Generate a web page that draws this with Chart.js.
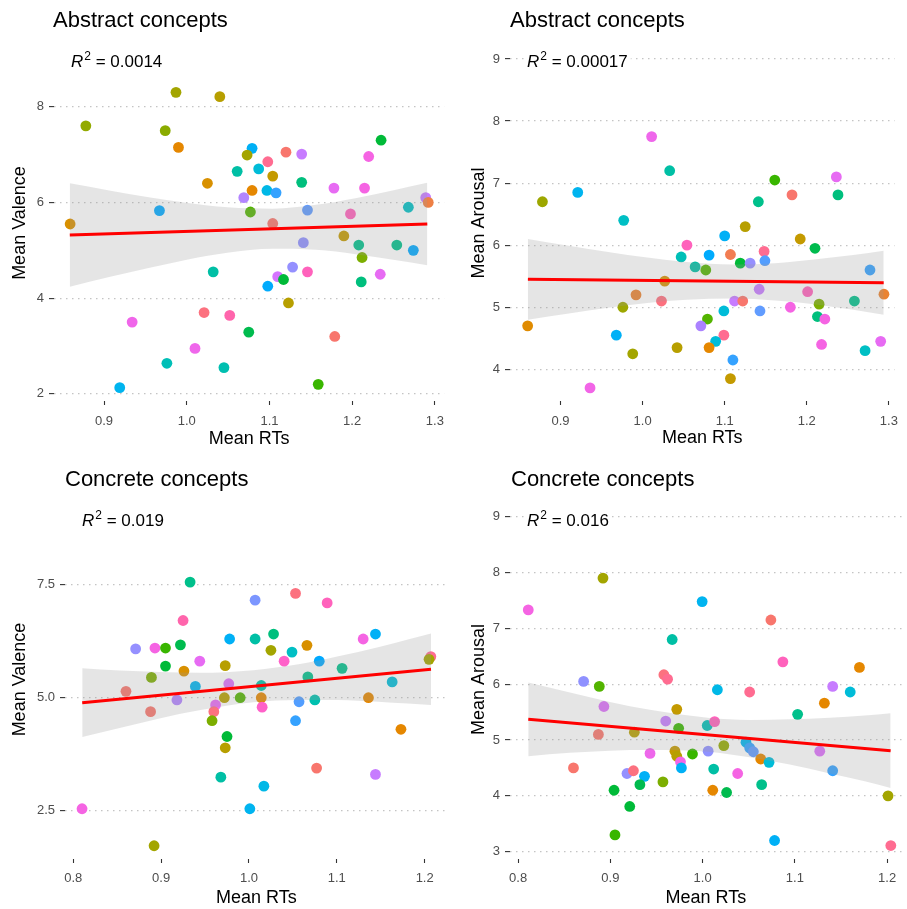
<!DOCTYPE html>
<html>
<head>
<meta charset="utf-8">
<script src="https://cdn.jsdelivr.net/npm/chart.js@4.4.0/dist/chart.umd.min.js"></script>
<style>
  body { margin: 0; background: #fff; width: 907px; height: 909px; position: relative; overflow: hidden; }
  canvas { position: absolute; }
</style>
</head>
<body>
<canvas id="absValence" width="453" height="455" style="left:0;top:0"></canvas>
<canvas id="absArousal" width="453" height="455" style="left:454px;top:0"></canvas>
<canvas id="conValence" width="453" height="454" style="left:0;top:455px"></canvas>
<canvas id="conArousal" width="453" height="454" style="left:454px;top:455px"></canvas>
<script>
// --- Abstract concepts: mean RT vs mean valence
const absValRT = [0.987,1.040,0.878,0.974,0.990,1.079,1.235,1.120,1.139,1.073,1.098,1.220,1.061,1.087,1.104,1.025,1.139,1.079,1.097,1.108,1.178,1.215,1.069,1.289,1.292,0.967,1.077,1.146,1.198,1.268,0.859,1.104,1.190,1.141,1.208,1.254,1.274,1.212,1.032,1.128,1.146,1.110,1.117,1.234,1.211,1.098,1.123,1.021,1.052,0.934,1.075,1.179,1.010,0.976,1.045,0.919,1.159];
const absValMean = [8.30,8.21,7.60,7.50,7.15,7.13,7.30,7.05,7.01,6.99,6.85,6.96,6.65,6.70,6.55,6.40,6.42,6.25,6.25,6.20,6.30,6.30,6.10,6.10,6.00,5.83,5.80,5.84,5.76,5.90,5.55,5.56,5.30,5.16,5.11,5.11,5.00,4.85,4.55,4.65,4.55,4.45,4.39,4.50,4.34,4.25,3.90,3.70,3.64,3.50,3.29,3.20,2.95,2.64,2.55,2.13,2.20];
const absValFitRT = [0.8586,0.9062,0.9539,1.0015,1.0491,1.1039,1.1563,1.2040,1.2516,1.2909];
const absValUpper = [6.40,6.25,6.11,5.99,5.90,5.87,5.95,6.09,6.26,6.41];
const absValLower = [4.24,4.44,4.63,4.81,4.95,5.03,5.01,4.92,4.80,4.69];
const absValLineRT = [0.8586,1.2909];
const absValLine = [5.32,5.55];

// --- Abstract concepts: mean RT vs mean arousal
const absAroRT = [1.011,1.033,0.878,0.921,1.161,1.182,1.236,1.238,1.141,0.977,1.125,1.100,1.054,1.192,1.210,1.047,1.081,1.107,1.148,1.064,1.077,1.119,1.131,1.149,1.277,1.027,0.992,1.023,1.142,1.201,1.112,1.122,1.258,1.294,0.976,1.099,1.143,1.180,1.215,0.860,1.079,1.071,1.213,1.222,0.968,1.099,1.089,1.290,1.042,1.081,1.218,0.988,1.110,1.271,0.936,1.107];
const absAroMean = [7.75,7.20,6.70,6.85,7.05,6.81,7.10,6.81,6.70,6.40,6.30,6.15,6.00,6.10,5.95,5.81,5.84,5.85,5.90,5.65,5.60,5.71,5.71,5.75,5.60,5.42,5.20,5.10,5.29,5.25,5.10,5.10,5.10,5.21,5.00,4.94,4.94,5.00,5.05,4.70,4.81,4.70,4.85,4.81,4.55,4.55,4.45,4.45,4.35,4.35,4.40,4.25,4.15,4.30,3.70,3.85];
const absAroFitRT = [0.8603,0.9102,0.9580,1.0057,1.0535,1.1097,1.1611,1.2088,1.2566,1.2937];
const absAroUpper = [6.10,5.99,5.89,5.80,5.73,5.69,5.71,5.77,5.84,5.91];
const absAroLower = [4.80,4.90,4.99,5.07,5.12,5.14,5.11,5.05,4.96,4.88];
const absAroLineRT = [0.8603,1.2937];
const absAroLine = [5.45,5.395];

// --- Concrete concepts: mean RT vs mean valence
const conValRT = [0.933,1.053,1.007,1.089,0.925,0.978,1.007,1.028,1.130,1.144,0.871,0.893,0.905,0.922,1.025,1.049,1.066,0.944,0.973,1.040,1.080,0.905,0.926,1.106,1.207,1.205,0.889,0.939,0.977,1.014,1.067,1.163,0.860,0.918,0.972,0.990,1.014,1.136,0.962,0.888,0.960,1.015,1.057,1.075,0.958,1.053,1.173,0.975,0.973,1.077,1.144,0.968,1.017,0.810,1.001,0.892];
const conValMean = [7.56,7.31,7.16,7.10,6.71,6.30,6.30,6.41,6.30,6.41,6.08,6.10,6.10,6.17,6.05,6.01,6.16,5.81,5.71,5.81,5.81,5.70,5.59,5.65,5.91,5.85,5.45,5.25,5.31,5.27,5.46,5.35,5.14,4.95,5.00,5.00,5.00,5.00,4.84,4.69,4.69,4.79,4.91,4.95,4.49,4.49,4.30,4.14,3.89,3.44,3.30,3.24,3.04,2.54,2.54,1.72];
const conValFitRT = [0.8102,0.8528,0.8981,0.9433,1.0051,1.0564,1.1017,1.1469,1.1809,1.2072];
const conValUpper = [5.65,5.60,5.57,5.55,5.61,5.74,5.92,6.12,6.29,6.42];
const conValLower = [4.13,4.33,4.54,4.72,4.90,4.95,4.95,4.91,4.87,4.84];
const conValLineRT = [0.8102,1.2072];
const conValLine = [4.889,5.629];

// --- Concrete concepts: mean RT vs mean arousal
const conAroRT = [0.892,0.811,0.9995,1.074,0.967,1.087,1.170,0.871,0.888,0.958,0.962,1.016,1.141,1.160,1.051,0.893,0.972,1.132,1.103,0.960,1.005,1.013,0.974,0.887,0.926,1.047,1.023,1.051,1.055,1.127,0.970,1.006,0.943,0.989,0.972,1.063,1.072,0.976,0.860,0.977,1.141,0.918,0.925,1.012,1.038,0.937,0.957,0.932,1.064,0.904,1.011,1.026,1.201,0.921,0.905,1.078,1.204];
const conAroMean = [7.90,7.33,7.48,7.15,6.80,6.40,6.30,6.05,5.96,6.17,6.09,5.90,5.96,5.86,5.86,5.60,5.55,5.66,5.46,5.34,5.26,5.33,5.21,5.10,5.14,4.96,4.90,4.86,4.79,4.80,4.80,4.80,4.76,4.75,4.71,4.66,4.60,4.61,4.50,4.50,4.45,4.40,4.45,4.48,4.40,4.35,4.25,4.20,4.20,4.10,4.10,4.06,4.00,3.81,3.30,3.20,3.11];
const conAroFitRT = [0.811,0.8562,0.8995,0.9428,1.0055,1.0511,1.0944,1.1378,1.1757,1.2038];
const conAroUpper = [6.03,5.85,5.68,5.54,5.40,5.36,5.37,5.40,5.44,5.48];
const conAroLower = [4.71,4.77,4.81,4.82,4.79,4.69,4.56,4.40,4.26,4.14];
const conAroLineRT = [0.811,1.2038];
const conAroLine = [5.371,4.809];

// tick labels
const absRTTicks = [0.9,1.0,1.1,1.2,1.3];
const conRTTicks = [0.8,0.9,1.0,1.1,1.2];
const absValTicks = [2,4,6,8];
const absAroTicks = [4,5,6,7,8,9];
const conValTicks = [2.5,5.0,7.5];
const conAroTicks = [3,4,5,6,7,8,9];

// point colours (one hue per concept, ggplot style)
const absValColors = ['#A3A500','#B79F00','#93AA00','#8AAB00','#E58700','#00B0F6','#00BA38','#F8766D','#C77CFF','#A3A500','#FF6C91','#F564E3','#00BFA5','#00BCD8','#C49A00','#D89000','#00BF7D','#E58700','#00B8E7','#35A2FF','#E76BF3','#F564E3','#B385FF','#C77CFF','#EE8044','#00A9FF','#53B400','#619CFF','#FF62BC','#00BFC4','#D89000','#F8766D','#C49A00','#8F91FF','#00C08B','#00C08B','#00A9FF','#7CAE00','#00BFA5','#9590FF','#FF62BC','#D575FE','#00BA38','#E76BF3','#00BF7D','#00ABFD','#B79F00','#FC717F','#FF65AC','#F066EA','#00BB4E','#F8766D','#EF67EB','#00BFB7','#00BFB0','#00B4EF','#39B600'];
const absAroColors = ['#EF67EB','#00BFA5','#9DA700','#00B4EF','#39B600','#F8766D','#E76BF3','#00BF7D','#00C08B','#00BFC4','#B79F00','#00B0F6','#FF62BC','#C49A00','#00BB4E','#00BFB7','#00ABFD','#F27D52','#FF6C91','#00BFA5','#53B400','#00BA38','#9590FF','#529EFF','#35A2FF','#D89000','#EA8331','#FC717F','#C77CFF','#FF62BC','#C77CFF','#F8766D','#00C08B','#EA8331','#9DA700','#00BCD8','#619CFF','#F564E3','#7CAE00','#E08B00','#53B400','#AB82FF','#00BF7D','#F564E3','#00B0F6','#FF6C91','#00BCD8','#E76BF3','#B79F00','#E58700','#F564E3','#A3A500','#35A2FF','#00BFC4','#F265E7','#C49A00'];
const conValColors = ['#00C08B','#FC717F','#7C96FF','#FF62BC','#FF65AC','#00B0F6','#00BFA5','#00BF7D','#F564E3','#00B0F6','#9590FF','#F564E3','#39B600','#00BB4E','#A3A500','#00BFC4','#D89000','#E76BF3','#B79F00','#FF61C9','#00A9FF','#00BA38','#D89000','#00C08B','#FF6C91','#A3A500','#7CAE00','#00B4EF','#DC71FA','#00BFA5','#00C08B','#00BCD8','#F8766D','#B385FF','#B79F00','#53B400','#E58700','#E58700','#E76BF3','#F8766D','#FC717F','#FF61C9','#529EFF','#00C0AF','#7CAE00','#35A2FF','#E58700','#00BA38','#B79F00','#F8766D','#C77CFF','#00BFA5','#00B8E7','#F564E3','#00B4F0','#A3A500'];
const conAroColors = ['#A3A500','#F564E3','#00B4F0','#F8766D','#00BFA5','#FF62BC','#E58700','#8F91FF','#53B400','#FC717F','#FF6C91','#00B8E7','#C77CFF','#00BCD8','#FF6C91','#DC71FA','#C49A00','#E58700','#00C08B','#C77CFF','#00BFB7','#FF62BC','#39B600','#F8766D','#B79F00','#00B4EF','#93AA00','#35A2FF','#619CFF','#DC71FA','#C49A00','#8F91FF','#EE67EB','#39B600','#B79F00','#E58700','#00BCD8','#F265E7','#F8766D','#00B0F6','#35A2FF','#9590FF','#FC717F','#00BFA5','#F564E3','#00B0F6','#7CAE00','#00BB4E','#00C08B','#00BA38','#E58700','#00BB4E','#A3A500','#00BA38','#39B600','#00B0F6','#FF6C91'];

Chart.defaults.font.family = '"Liberation Sans", Arial, sans-serif';
Chart.defaults.animation = false;

// titles and the R² label
const panelText = {
  id: 'panelText',
  afterDraw(chart, args, o) {
    const ctx = chart.ctx;
    const left = chart.chartArea.left;
    ctx.save();
    ctx.fillStyle = '#000';
    ctx.textBaseline = 'alphabetic';
    ctx.textAlign = 'left';
    ctx.font = '22px "Liberation Sans", Arial, sans-serif';
    ctx.fillText(o.title, left + o.titleDx, o.titleY);

    const x0 = left + 17;
    const rest = ' = ' + o.r2;
    ctx.font = 'italic 17px "Liberation Sans", Arial, sans-serif';
    const wR = ctx.measureText('R').width;
    ctx.font = '12px "Liberation Sans", Arial, sans-serif';
    const w2 = ctx.measureText('2').width;
    ctx.font = '17px "Liberation Sans", Arial, sans-serif';
    const wRest = ctx.measureText(rest).width;
    ctx.fillStyle = '#fff';
    ctx.fillRect(x0 - 3, o.r2Y - 17, wR + w2 + wRest + 7, 22);
    ctx.fillStyle = '#000';
    ctx.font = 'italic 17px "Liberation Sans", Arial, sans-serif';
    ctx.fillText('R', x0, o.r2Y);
    ctx.font = '12px "Liberation Sans", Arial, sans-serif';
    ctx.fillText('2', x0 + wR + 1, o.r2Y - 7);
    ctx.font = '17px "Liberation Sans", Arial, sans-serif';
    ctx.fillText(rest, x0 + wR + w2 + 1, o.r2Y);
    ctx.restore();
  }
};

function toXY(xs, ys) {
  return xs.map((v, i) => ({ x: v, y: ys[i] }));
}

function makePanel(p) {
  const canvas = document.getElementById(p.id);
  const H = canvas.height, W = canvas.width;
  new Chart(canvas, {
    type: 'scatter',
    data: {
      datasets: [
        { data: toXY(p.rt, p.mean), pointBackgroundColor: p.colors, pointBorderWidth: 0, pointRadius: 5.4, order: 3 },
        { data: toXY(p.fitRT, p.upper), showLine: true, pointRadius: 0, borderWidth: 0, borderColor: 'rgba(0,0,0,0)',
          fill: '+1', backgroundColor: 'rgba(153,153,153,0.26)', cubicInterpolationMode: 'monotone', order: 2 },
        { data: toXY(p.fitRT, p.lower), showLine: true, pointRadius: 0, borderWidth: 0, borderColor: 'rgba(0,0,0,0)',
          fill: false, cubicInterpolationMode: 'monotone', order: 2 },
        { data: toXY(p.lineRT, p.line), showLine: true, pointRadius: 0, borderColor: '#ff0000', borderWidth: 3, order: 1 }
      ]
    },
    options: {
      responsive: false,
      events: [],
      layout: { padding: { top: p.top, right: W - p.right, bottom: 0, left: 0 } },
      plugins: {
        legend: { display: false },
        tooltip: { enabled: false },
        panelText: { title: p.title, titleDx: p.titleDx, titleY: p.titleY, r2: p.r2, r2Y: p.r2Y }
      },
      scales: {
        x: {
          type: 'linear', min: p.xMin, max: p.xMax,
          afterBuildTicks: s => { s.ticks = p.xTicks.map(v => ({ value: v })); },
          afterFit: s => { s.height = H - p.bottom; },
          ticks: { callback: v => v.toFixed(1), color: '#4d4d4d', font: { size: 13 }, padding: p.xTickPad, maxRotation: 0 },
          grid: { drawOnChartArea: false, drawTicks: true, tickLength: 4, tickColor: '#333', tickWidth: 1.1 },
          border: { display: false },
          title: { display: true, text: 'Mean RTs', color: '#000', font: { size: 18 }, padding: { top: 0, bottom: p.xTitlePad } }
        },
        y: {
          type: 'linear', min: p.yMin, max: p.yMax,
          afterBuildTicks: s => { s.ticks = p.yTicks.map(v => ({ value: v })); },
          afterFit: s => { s.width = p.left; },
          ticks: { callback: v => v.toFixed(p.yDigits), color: '#4d4d4d', font: { size: 13 }, padding: 5 },
          grid: { color: '#c4c4c4', lineWidth: 1.2, drawTicks: true, tickLength: 5, tickColor: '#333', tickWidth: 1.1 },
          border: { display: false, dash: [1.5, 4.5] },
          title: { display: true, text: p.yTitle, color: '#000', font: { size: 18 }, padding: { top: p.yTitlePad, bottom: 0 } }
        }
      }
    },
    plugins: [panelText]
  });
}

makePanel({ id: 'absValence', title: 'Abstract concepts', r2: '0.0014', yTitle: 'Mean Valence',
  rt: absValRT, mean: absValMean, colors: absValColors, fitRT: absValFitRT, upper: absValUpper, lower: absValLower,
  lineRT: absValLineRT, line: absValLine, xTicks: absRTTicks, yTicks: absValTicks, yDigits: 0,
  xMin: 0.8395, xMax: 1.3112, yMin: 1.852, yMax: 9.289,
  left: 54, right: 450, top: 45, bottom: 401, titleDx: -1, titleY: 27, r2Y: 67, xTickPad: 9, xTitlePad: 5, yTitlePad: 9 });

makePanel({ id: 'absArousal', title: 'Abstract concepts', r2: '0.00017', yTitle: 'Mean Arousal',
  rt: absAroRT, mean: absAroMean, colors: absAroColors, fitRT: absAroFitRT, upper: absAroUpper, lower: absAroLower,
  lineRT: absAroLineRT, line: absAroLine, xTicks: absRTTicks, yTicks: absAroTicks, yDigits: 0,
  xMin: 0.8385, xMax: 1.3068, yMin: 3.489, yMax: 9.226,
  left: 56, right: 448, top: 45, bottom: 401, titleDx: 0, titleY: 27, r2Y: 67, xTickPad: 9, xTitlePad: 6, yTitlePad: 14 });

makePanel({ id: 'conValence', title: 'Concrete concepts', r2: '0.019', yTitle: 'Mean Valence',
  rt: conValRT, mean: conValMean, colors: conValColors, fitRT: conValFitRT, upper: conValUpper, lower: conValLower,
  lineRT: conValLineRT, line: conValLine, xTicks: conRTTicks, yTicks: conValTicks, yDigits: 1,
  xMin: 0.7906, xMax: 1.2261, yMin: 1.427, yMax: 9.379,
  left: 65, right: 450, top: 45, bottom: 404, titleDx: 0, titleY: 31, r2Y: 71, xTickPad: 7.5, xTitlePad: 0, yTitlePad: 9 });

makePanel({ id: 'conArousal', title: 'Concrete concepts', r2: '0.016', yTitle: 'Mean Arousal',
  rt: conAroRT, mean: conAroMean, colors: conAroColors, fitRT: conAroFitRT, upper: conAroUpper, lower: conAroLower,
  lineRT: conAroLineRT, line: conAroLine, xTicks: conRTTicks, yTicks: conAroTicks, yDigits: 0,
  xMin: 0.7912, xMax: 1.2157, yMin: 2.869, yMax: 9.299,
  left: 56, right: 448, top: 45, bottom: 404, titleDx: 1, titleY: 31, r2Y: 71, xTickPad: 7.5, xTitlePad: 0, yTitlePad: 14 });
</script>
</body>
</html>
